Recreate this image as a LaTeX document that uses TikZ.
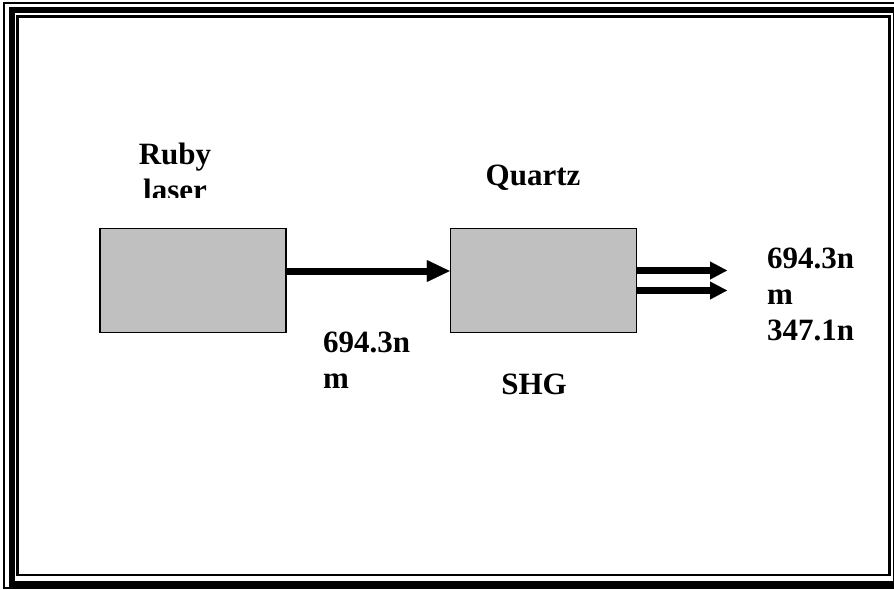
\documentclass[tikz,border=0pt]{standalone}
\usepackage{fontspec}
\setmainfont{Liberation Serif}
\usetikzlibrary{arrows.meta}

\definecolor{crystalgray}{HTML}{C0C0C0}

\tikzset{%
  every block/.style={
    draw,
    fill=crystalgray,
    line width=1.5pt,
    minimum width=186pt,
    minimum height=104pt,
    inner sep=0pt
  },
  every label text/.style={
    font=\fontsize{31}{36}\selectfont\bfseries,
    inner sep=0pt
  },
  beam/.style={
    line width=7pt,
    -{Triangle[length=23pt,width=22pt,line width=0.1pt]}
  },
  thin beam/.style={
    line width=7pt,
    -{Triangle[length=17pt,width=18pt,line width=0.1pt]}
  },
}

\begin{document}
\begin{tikzpicture}[x=1pt, y=-1pt]

            \useasboundingbox (0,0) rectangle (894,589);
            \clip (0,0) rectangle (894,589);

            \draw [line width=2pt] (4,3) rectangle (902,587.5);
            \draw [line width=6pt] (11.5,10) rectangle (895.5,583.5);
            \draw [line width=2.5pt] (17.5,16.5) rectangle (889.5,575);

            \node [every block] (ruby) at (193,280.5) {};
            \node [every block] (quartz) at (543.5,280.5) {};
            \coordinate (out) at (727,280.5);

            \begin{scope}
              \clip (100,120) rectangle (260,197);
              \node [every label text, align=center, anchor=base] (rubytext) at (175,200) {Ruby\\laser};
            \end{scope}
            \node [every label text, anchor=base] (quartztext) at (533,185) {Quartz};
            \node [every label text, anchor=base] (shgtext) at (534,394) {SHG};
            \node [every label text, align=left, anchor=base west] (inlabel) at (323,388) {694.3n\\m};
            \node [every label text, align=left, anchor=base west] (outlabel) at (767,340) {694.3n\\m\\347.1n};

            \draw [beam] ([yshift=9.5pt]ruby.east) -- ([yshift=9.5pt]quartz.west);

            \foreach \s in {10,-10}
              \draw [thin beam] ([yshift=\s pt]quartz.east) -- ([yshift=\s pt]out);

\end{tikzpicture}
\end{document}
